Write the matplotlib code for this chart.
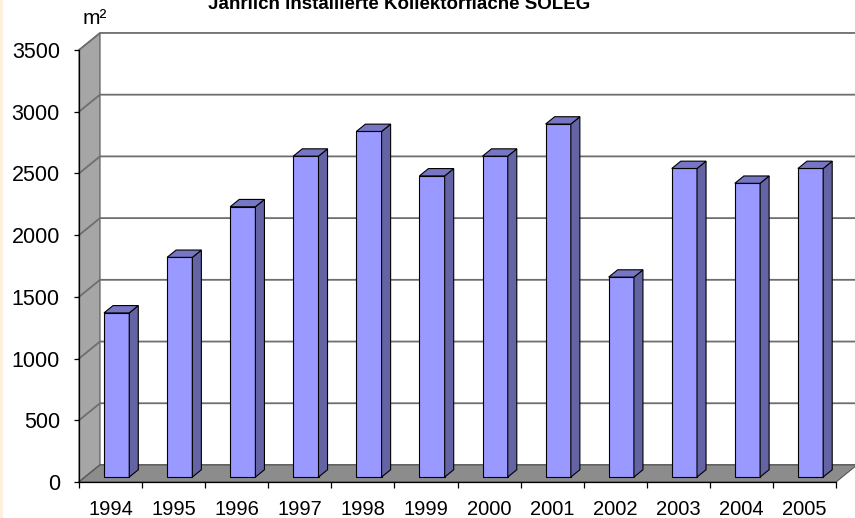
import matplotlib.pyplot as plt
from matplotlib.patches import Polygon, Rectangle
import numpy as np

years = ['1994', '1995', '1996', '1997', '1998', '1999',
         '2000', '2001', '2002', '2003', '2004', '2005']
area = [1330, 1780, 2190, 2600, 2800, 2440, 2600, 2860, 1620, 2500, 2380, 2500]
yticks = [0, 500, 1000, 1500, 2000, 2500, 3000, 3500]
title = 'Jährlich installierte Kollektorfläche SOLEG'

# fake 3d: offset of the back wall in data units
DX, DY = 0.333, 138
# depth range of the columns (fraction of the floor depth)
D0, D1 = 0.29, 0.72
BAR_W = 0.4

FRONT = '#9999ff'
SIDE = '#6464a4'
TOP = '#7676c4'
GRID = '#6e6e6e'

plt.rcParams['font.family'] = ['Liberation Sans', 'DejaVu Sans']

fig = plt.figure(figsize=(8.55, 5.18), dpi=100)
ax = fig.add_axes([79 / 855, 36 / 518, 757 / 855, 432 / 518])
ax.set_xlim(0, 12)
ax.set_ylim(0, 3500)
n = len(years)

# walls and floor
ax.add_patch(Rectangle((DX, DY), n, 3500, fc='white', ec='none',
                       zorder=0, clip_on=False))
ax.add_patch(Polygon([(0, 0), (0, 3500), (DX, 3500 + DY), (DX, DY)],
                     closed=True, fc='#a6a6a6', ec='#555555', lw=0.8,
                     zorder=0.5, clip_on=False))
for v in yticks:
    ax.plot([0, DX, n + DX], [v, v + DY, v + DY], color=GRID, lw=1.3,
            zorder=0.8, clip_on=False)
ax.add_patch(Polygon([(0, 0), (n, 0), (n + DX, DY), (DX, DY)],
                     closed=True, fc='#8c8c8c', ec='#555555', lw=0.8,
                     zorder=1, clip_on=False))

# columns
x = np.arange(n) + 0.5
ddx, ddy = (D1 - D0) * DX, (D1 - D0) * DY
base = D0 * DY
ax.bar(x + D0 * DX, area, BAR_W, bottom=base, color=FRONT,
       edgecolor='black', lw=0.8, zorder=4, clip_on=False)
for xc, h in zip(x + D0 * DX, area):
    xl, xr = xc - BAR_W / 2, xc + BAR_W / 2
    top = base + h
    ax.add_patch(Polygon([(xr, base), (xr, top), (xr + ddx, top + ddy),
                          (xr + ddx, base + ddy)], closed=True, fc=SIDE,
                         ec='black', lw=0.8, zorder=4, clip_on=False))
    ax.add_patch(Polygon([(xl, top), (xr, top), (xr + ddx, top + ddy),
                          (xl + ddx, top + ddy)], closed=True, fc=TOP,
                         ec='black', lw=0.8, zorder=4, clip_on=False))

# axes
for s in ['top', 'right']:
    ax.spines[s].set_visible(False)
for s in ['left', 'bottom']:
    ax.spines[s].set_linewidth(0.9)
    ax.spines[s].set_zorder(2)
ax.set_yticks(yticks)
ax.tick_params(axis='y', length=3.8, width=0.9, pad=10, labelsize=15.5)
ax.set_xticks(np.arange(n + 1))
ax.set_xticklabels([])
ax.set_xticks(x, minor=True)
ax.set_xticklabels(years, minor=True)
ax.tick_params(axis='x', which='major', length=4.5, width=0.9)
ax.tick_params(axis='x', which='minor', length=0, pad=13, labelsize=14.5)

fig.text(83 / 855, 1 - 18 / 518, 'm²', fontsize=15, va='center')
fig.text(399 / 855, 1 - 9 / 518, title, fontsize=13.5, fontweight='bold',
         ha='center', va='baseline')
fig.patches.append(Rectangle((0, 0), 3 / 855, 1, transform=fig.transFigure,
                             fc='#fdf0dc', ec='none'))

fig.savefig('out.png', dpi=100)
